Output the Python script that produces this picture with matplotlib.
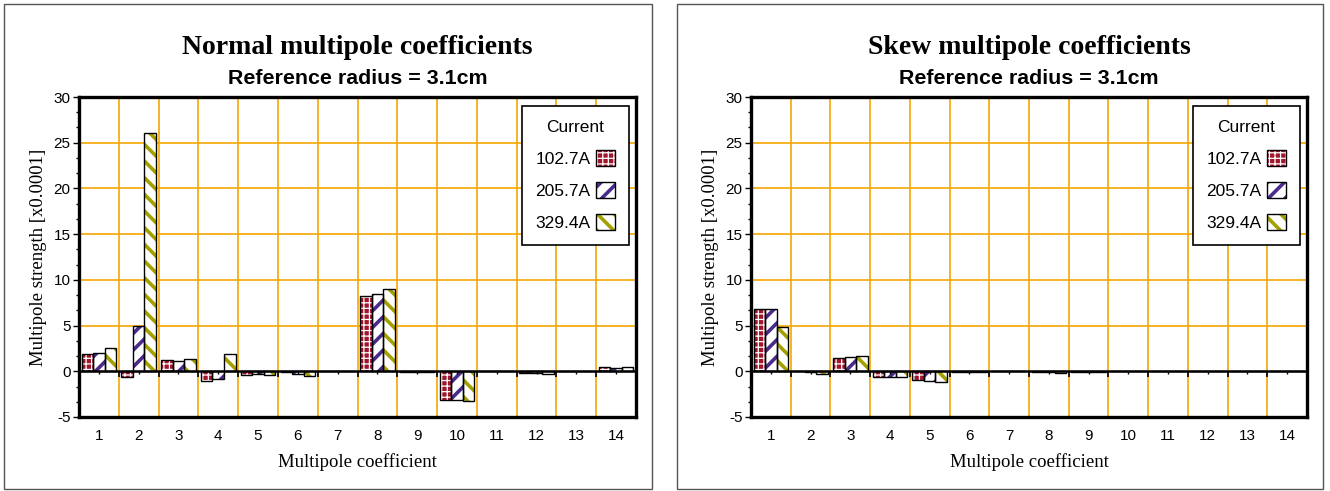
import numpy as np
import matplotlib
matplotlib.use("Agg")
import matplotlib.pyplot as plt
from matplotlib.patches import Patch, Rectangle
from matplotlib.legend_handler import HandlerTuple
from matplotlib.ticker import MultipleLocator

# data
coefficients = np.arange(1, 15)
currents = ["102.7A", "205.7A", "329.4A"]

normal_102 = [1.9, -0.6, 1.2, -1.1, -0.4, -0.05, 0.0, 8.2, -0.05, -3.1, 0.0, -0.2, 0.0, 0.45]
normal_205 = [2.0, 5.0, 1.1, -0.85, -0.35, -0.35, 0.0, 8.4, -0.05, -3.15, 0.0, -0.2, 0.0, 0.4]
normal_329 = [2.5, 26.1, 1.3, 1.9, -0.45, -0.55, 0.0, 9.0, -0.05, -3.3, 0.0, -0.3, 0.0, 0.45]

skew_102 = [6.8, 0.0, 1.5, -0.65, -1.0, -0.05, 0.0, -0.1, -0.05, 0.0, 0.0, 0.0, 0.0, 0.0]
skew_205 = [6.8, -0.05, 1.55, -0.65, -1.1, -0.05, 0.0, -0.1, -0.05, 0.0, 0.0, 0.0, 0.0, 0.0]
skew_329 = [4.8, -0.3, 1.7, -0.65, -1.2, -0.05, 0.0, -0.15, -0.05, 0.0, 0.0, 0.0, 0.0, 0.0]

# style per series: (face, hatch colour, hatch, hatch linewidth)
styles = [
    ("#a0142c", "white", "+++", 0.9),
    ("white", "#4a2a8c", "//", 2.6),
    ("white", "#a3a000", "\\\\", 2.6),
]
hatch_lw = {h: lw for _, _, h, lw in styles}

plt.rcParams["axes.unicode_minus"] = False
SANS = "Liberation Sans"
SERIF = "Liberation Serif"
GRID = "#f5a700"

W, H = 1330, 491
fig = plt.figure(figsize=(W / 100, H / 100), dpi=100)


def px_axes(x0, x1, y0, y1):
    return fig.add_axes([x0 / W, 1 - y1 / H, (x1 - x0) / W, (y1 - y0) / H])


def draw_panel(ax, series, title, panel):
    bw = 0.29
    offsets = [-bw, 0, bw]
    handles = []
    for vals, off, (face, hcol, hatch, hlw) in zip(series, offsets, styles):
        x = coefficients + off
        with plt.rc_context({"hatch.linewidth": hlw}):
            ax.bar(x, vals, bw, color=face, hatch=hatch, edgecolor=hcol, lw=0, zorder=3)
            hp = Patch(facecolor=face, hatch=hatch, edgecolor=hcol, lw=0)
        ax.bar(x, vals, bw, fill=False, edgecolor="black", lw=1.0, zorder=4)
        handles.append((hp, Patch(fill=False, edgecolor="black", lw=1.0)))

    ax.set_xlim(0.5, 14.5)
    ax.set_ylim(-5, 30)
    ax.set_yticks(np.arange(-5, 31, 5))
    ax.yaxis.set_minor_locator(MultipleLocator(5 / 3))
    ax.set_xticks(coefficients)
    ax.tick_params(axis="x", length=0, pad=9, labelsize=11)
    ax.tick_params(axis="y", which="major", length=4, width=1, labelsize=11, pad=2)
    ax.tick_params(axis="y", which="minor", length=2.5, width=1)
    for lab in ax.get_xticklabels() + ax.get_yticklabels():
        lab.set_fontfamily(SANS)

    # grid: horizontal at majors, vertical at category boundaries
    for y in range(5, 30, 5):
        ax.axhline(y, color=GRID, lw=1.2, zorder=1)
    for xb in np.arange(1.5, 14.5, 1):
        ax.axvline(xb, color=GRID, lw=1.2, zorder=1)

    # category axis at zero with its tick marks
    ax.axhline(0, color="black", lw=1.8, zorder=5)
    ax.plot(np.arange(1.5, 14.5, 1), np.zeros(13), ls="none", marker=3, ms=4,
            mew=1.2, color="black", zorder=5)
    ax.plot(coefficients, np.zeros(14), ls="none", marker=3, ms=2.5,
            mew=1, color="black", zorder=5)

    for s in ax.spines.values():
        s.set_linewidth(2.4)
        s.set_zorder(6)

    ax.set_xlabel("Multipole coefficient", family=SERIF, fontsize=13.5, labelpad=7)
    ax.set_ylabel("Multipole strength [x0.0001]", family=SERIF, fontsize=13.5, labelpad=5)

    leg = ax.legend(handles, currents, title="Current", loc="upper right",
                    bbox_to_anchor=(0.987, 0.972), borderaxespad=0,
                    markerfirst=False, frameon=True,
                    fancybox=False, edgecolor="black", framealpha=1,
                    prop={"family": SANS, "size": 12.5},
                    title_fontproperties={"family": SANS, "size": 12.5},
                    handler_map={tuple: HandlerTuple(ndivide=1)},
                    handlelength=1.1, handleheight=1.1, handletextpad=0.3,
                    labelspacing=0.85, borderpad=0.8)
    leg.get_frame().set_linewidth(1.2)
    leg.set_zorder(10)
    # legend copies of the patches take the default hatch width; restore ours
    for p in leg.findobj(Patch):
        h = p.get_hatch()
        if h in hatch_lw:
            p._hatch_linewidth = hatch_lw[h]

    x0, x1 = panel
    cx = ((x0 + x1) / 2) / W
    fig.text(cx, 1 - 47 / H, title, ha="center", va="center", family=SERIF,
             weight="bold", fontsize=20)
    fig.text(cx, 1 - 78 / H, "Reference radius = 3.1cm", ha="center", va="center",
             family=SANS, weight="bold", fontsize=15.4)


ax1 = px_axes(79, 636, 97, 417)
ax2 = px_axes(751, 1307, 97, 417)
draw_panel(ax1, [normal_102, normal_205, normal_329], "Normal multipole coefficients", (79, 636))
draw_panel(ax2, [skew_102, skew_205, skew_329], "Skew multipole coefficients", (751, 1307))

# panel frames
for (a, b) in [(4, 652), (677, 1323)]:
    fig.add_artist(Rectangle((a / W, 1 - 489 / H), (b - a) / W, (489 - 4) / H,
                             transform=fig.transFigure, fill=False, ec="#555555", lw=1))

fig.savefig("out.png", dpi=100)
